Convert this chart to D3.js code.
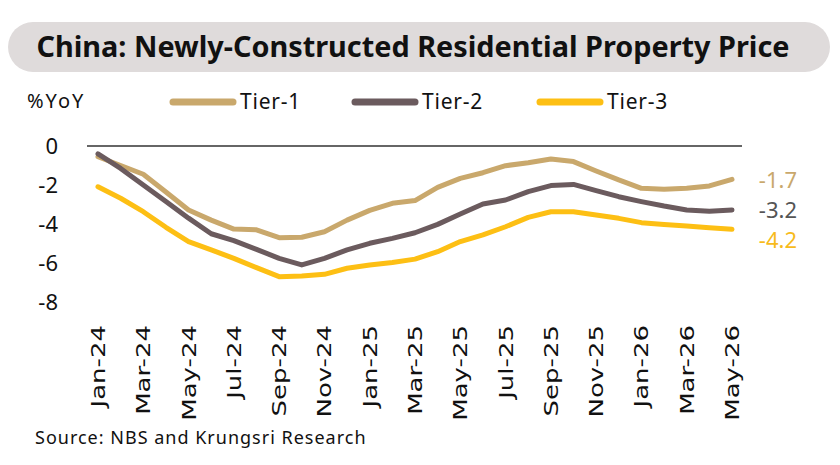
<!DOCTYPE html>
<html>
<head>
<meta charset="utf-8">
<script src="https://cdn.jsdelivr.net/npm/d3@7"></script>
<style>
  body { margin: 0; background: #fff; }
  svg { display: block; }
</style>
</head>
<body>
<div id="chart"></div>
<script>
// data (%YoY)
var months = ["Jan-24","Feb-24","Mar-24","Apr-24","May-24","Jun-24","Jul-24","Aug-24","Sep-24","Oct-24","Nov-24","Dec-24",
              "Jan-25","Feb-25","Mar-25","Apr-25","May-25","Jun-25","Jul-25","Aug-25","Sep-25","Oct-25","Nov-25","Dec-25",
              "Jan-26","Feb-26","Mar-26","Apr-26","May-26"];
var tier1 = [-0.55,-1.0,-1.45,-2.36,-3.28,-3.8,-4.26,-4.3,-4.7,-4.68,-4.4,-3.8,-3.3,-2.94,-2.8,-2.12,-1.66,-1.37,-1.01,-0.86,-0.67,-0.8,-1.28,-1.74,-2.17,-2.22,-2.17,-2.05,-1.71];
var tier2 = [-0.4,-1.15,-2.0,-2.85,-3.7,-4.5,-4.85,-5.3,-5.76,-6.1,-5.76,-5.33,-4.99,-4.74,-4.45,-4.02,-3.49,-2.97,-2.77,-2.34,-2.03,-1.97,-2.29,-2.6,-2.85,-3.08,-3.28,-3.35,-3.28];
var tier3 = [-2.09,-2.68,-3.37,-4.17,-4.9,-5.33,-5.76,-6.24,-6.7,-6.67,-6.58,-6.27,-6.1,-5.97,-5.8,-5.42,-4.9,-4.56,-4.14,-3.66,-3.37,-3.37,-3.54,-3.71,-3.93,-4.02,-4.1,-4.19,-4.27];
var endLabels = ["-1.7","-3.2","-4.2"];
var seriesNames = ["Tier-1","Tier-2","Tier-3"];
var seriesColors = ["#c9a86c","#6b5b5e","#fdbf14"];
var labelColors = ["#c9a86c","#555555","#f7bb1c"];
var yTicks = [0,-2,-4,-6,-8];

var W = 840, H = 465;
var svg = d3.select("#chart").append("svg")
    .attr("width", W)
    .attr("height", H);

// title box
svg.append("rect")
    .attr("x", 8).attr("y", 22)
    .attr("width", 822).attr("height", 50)
    .attr("rx", 25)
    .attr("fill", "#dfdbdb");
svg.append("text")
    .attr("x", 413).attr("y", 57)
    .attr("text-anchor", "middle")
    .attr("font-family", "Noto Sans")
    .attr("font-weight", "bold")
    .attr("font-size", 28)
    .attr("textLength", 753)
    .attr("lengthAdjust", "spacingAndGlyphs")
    .attr("fill", "#111")
    .text("China: Newly-Constructed Residential Property Price");

// scales
var x = d3.scaleLinear().domain([0, months.length - 1]).range([98, 732]);
var y = d3.scaleLinear().domain([-8, 0]).range([302, 146]);

// y axis labels
svg.append("g").selectAll("text")
    .data(yTicks)
    .enter().append("text")
      .attr("x", 58)
      .attr("y", function (d) { return y(d); })
      .attr("dy", "0.35em")
      .attr("text-anchor", "end")
      .attr("font-family", "Noto Sans")
      .attr("font-size", 22)
      .attr("fill", "#111")
      .text(function (d) { return d; });

svg.append("text")
    .attr("x", 27).attr("y", 108)
    .attr("font-family", "Noto Sans")
    .attr("font-size", 20)
    .attr("letter-spacing", 2)
    .attr("fill", "#111")
    .text("%YoY");

// zero line
svg.append("line")
    .attr("x1", 87).attr("x2", 742)
    .attr("y1", y(0)).attr("y2", y(0))
    .attr("stroke", "#333")
    .attr("stroke-width", 1.5);

// x labels, every other month
svg.append("g").selectAll("text")
    .data(months.filter(function (d, i) { return i % 2 === 0; }))
    .enter().append("text")
      .attr("transform", function (d) {
        return "translate(" + (x(months.indexOf(d)) + 7) + ",325) rotate(-90) scale(1.3,1)";
      })
      .attr("text-anchor", "end")
      .attr("font-family", "DejaVu Sans")
      .attr("font-size", 20)
      .attr("fill", "#111")
      .text(function (d) { return d; });

// lines
var line = d3.line()
    .x(function (d, i) { return x(i); })
    .y(function (d) { return y(d); });

var allSeries = [tier1, tier2, tier3];
svg.append("g").selectAll("path")
    .data(allSeries)
    .enter().append("path")
      .attr("d", line)
      .attr("fill", "none")
      .attr("stroke", function (d, i) { return seriesColors[i]; })
      .attr("stroke-width", 5)
      .attr("stroke-linecap", "round")
      .attr("stroke-linejoin", "round");

// end labels
var endY = [180, 210, 240];
svg.append("g").selectAll("text")
    .data(endLabels)
    .enter().append("text")
      .attr("x", 797)
      .attr("y", function (d, i) { return endY[i]; })
      .attr("dy", "0.35em")
      .attr("text-anchor", "end")
      .attr("font-family", "Noto Sans")
      .attr("font-size", 22)
      .attr("fill", function (d, i) { return labelColors[i]; })
      .text(function (d) { return d; });

// legend
var legendX = [170, 352, 537];
var leg = svg.append("g").selectAll("g")
    .data(seriesNames)
    .enter().append("g")
      .attr("transform", function (d, i) { return "translate(" + legendX[i] + ",102)"; });
leg.append("line")
    .attr("x1", 3).attr("x2", 63)
    .attr("stroke", function (d, i) { return seriesColors[i]; })
    .attr("stroke-width", 7)
    .attr("stroke-linecap", "round");
leg.append("text")
    .attr("x", 70)
    .attr("dy", "0.35em")
    .attr("font-family", "Noto Sans")
    .attr("font-size", 21)
    .attr("letter-spacing", 0.8)
    .attr("fill", "#111")
    .text(function (d) { return d; });

// source
svg.append("text")
    .attr("x", 35).attr("y", 444)
    .attr("font-family", "Noto Sans")
    .attr("font-size", 18)
    .attr("letter-spacing", 1)
    .attr("fill", "#111")
    .text("Source: NBS and Krungsri Research");
</script>
</body>
</html>
